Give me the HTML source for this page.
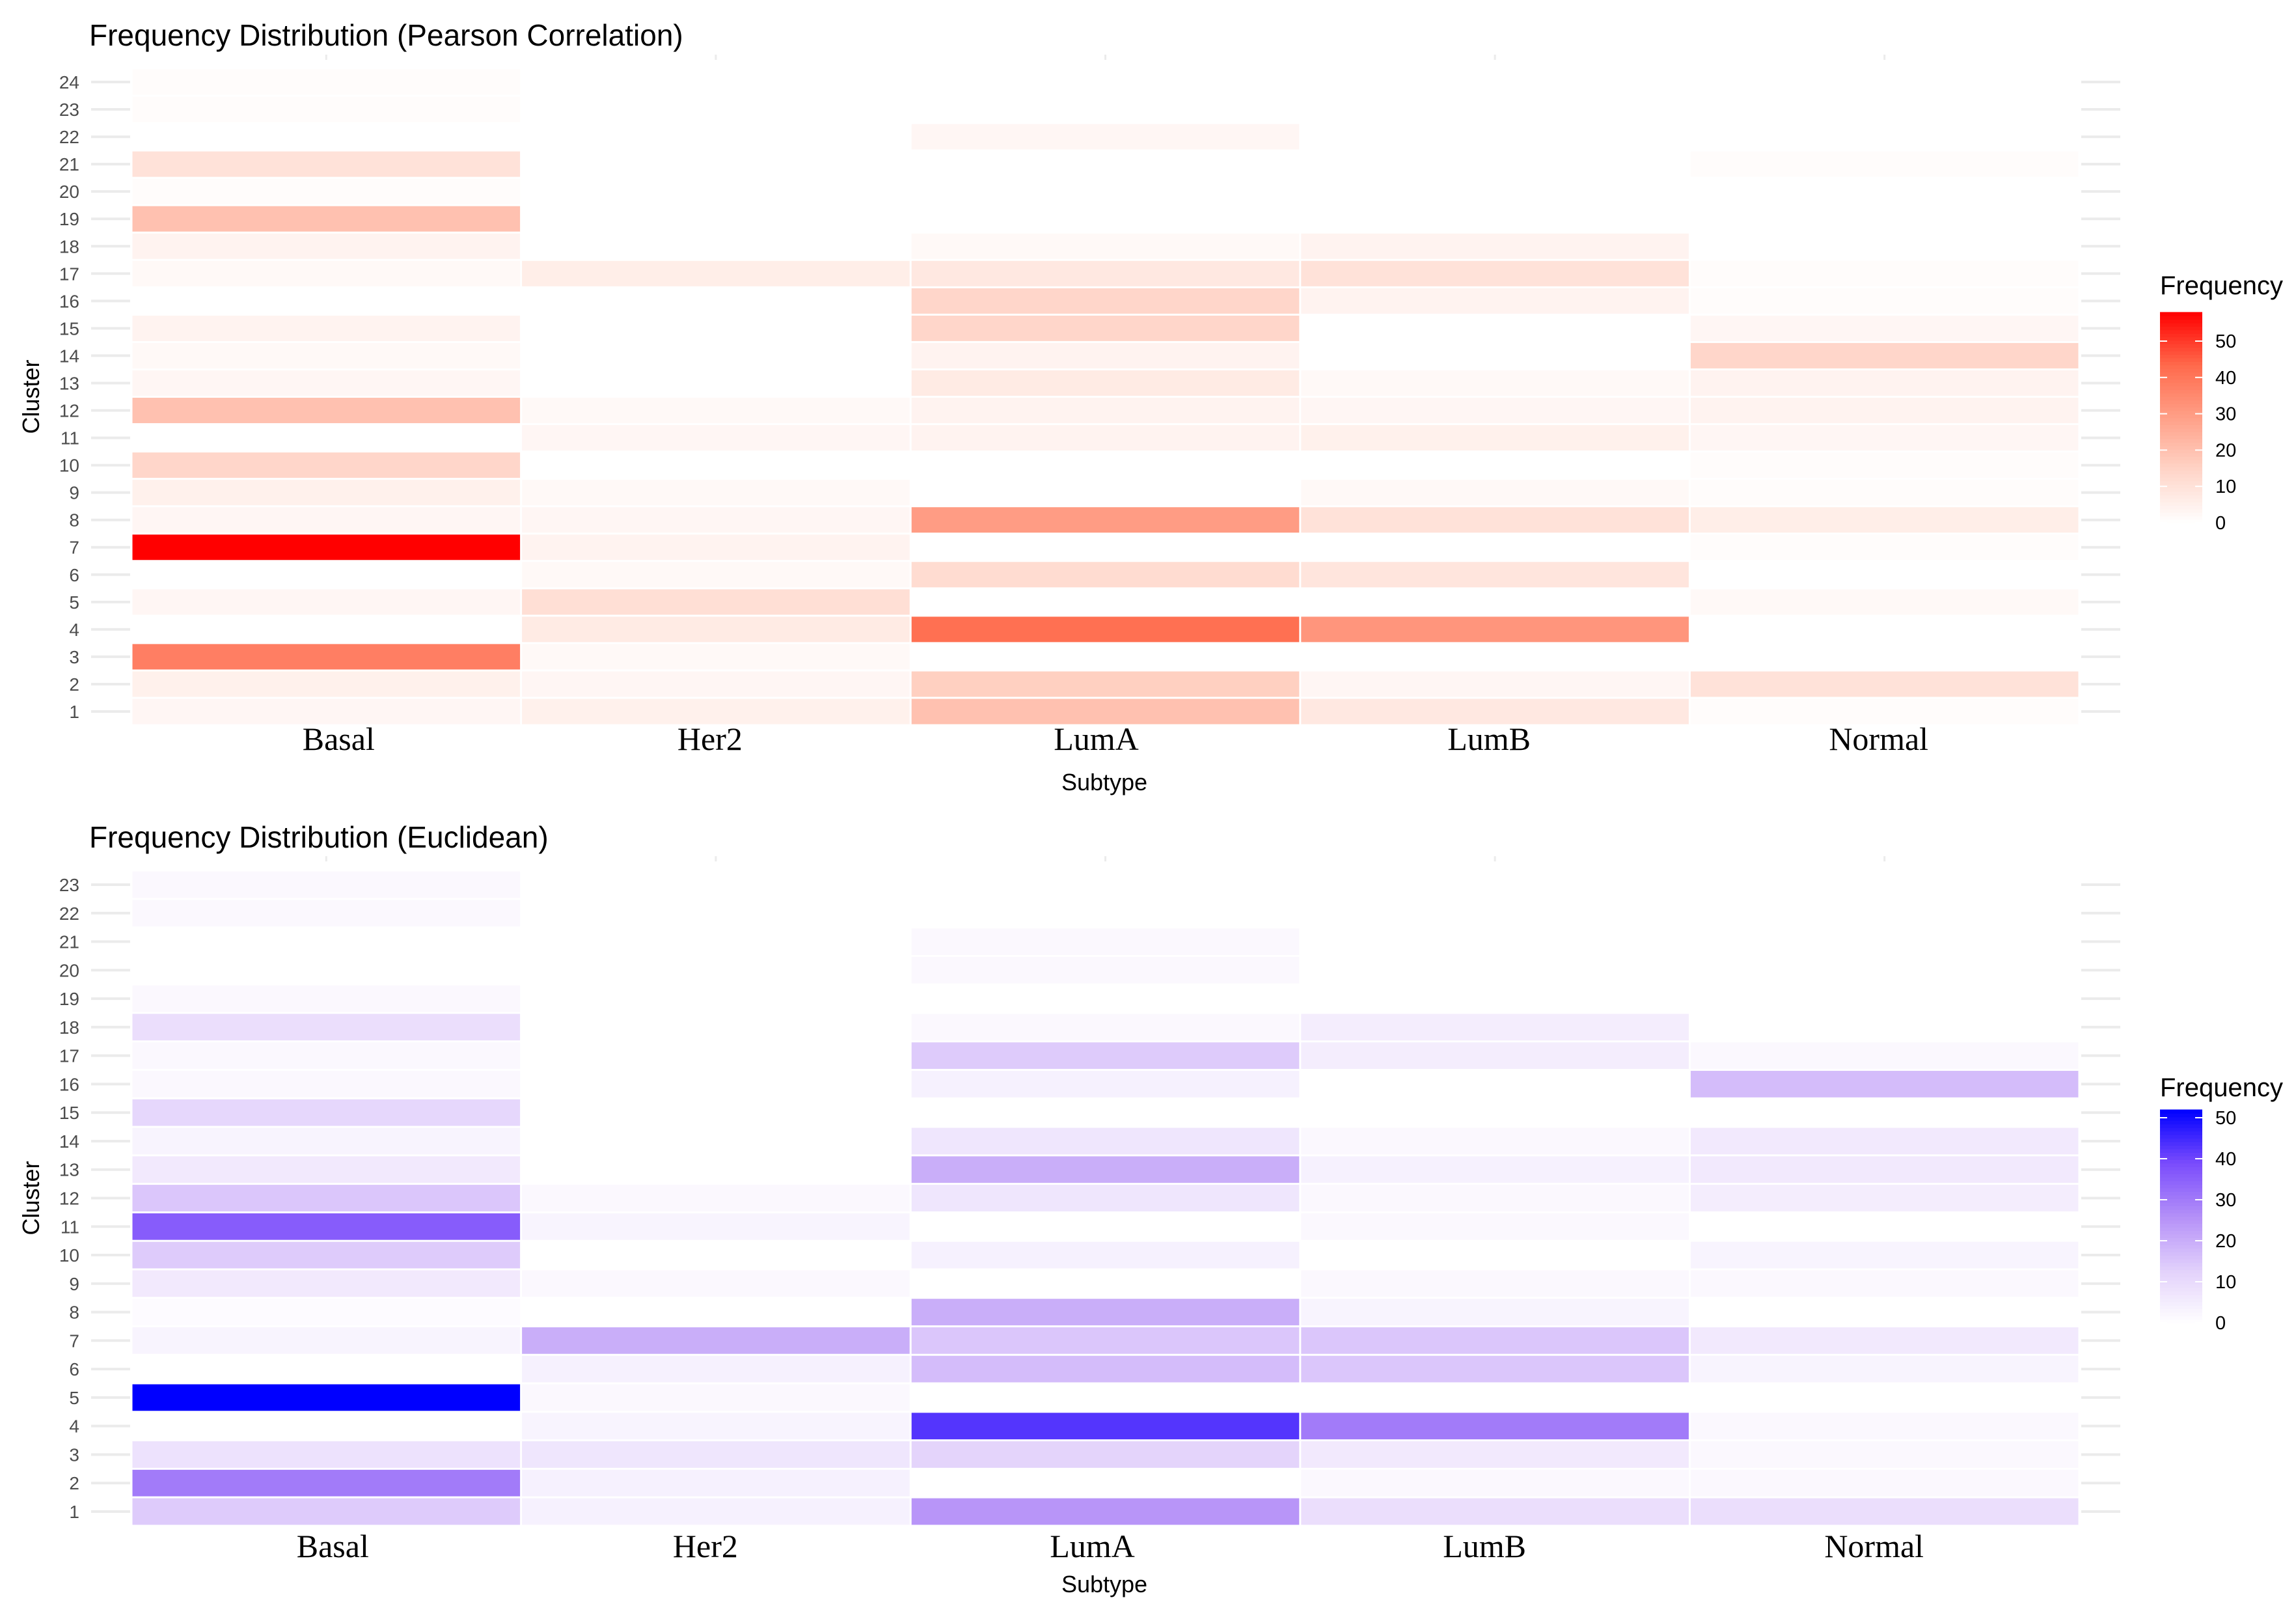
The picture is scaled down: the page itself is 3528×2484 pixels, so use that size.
<!DOCTYPE html>
<html><head><meta charset="utf-8">
<style>
html,body{margin:0;padding:0;background:#fff;}
svg{display:block;font-family:"Liberation Sans",sans-serif;}
</style></head>
<body>
<svg id="chart" width="3528" height="2484" viewBox="0 0 3528 2484" xmlns="http://www.w3.org/2000/svg"></svg>
<script>
const subtypes = ["Basal","Her2","LumA","LumB","Normal"];
// Pearson values, rows cluster 1..24
const pearsonBasal  = [3,5,38,0,3,0,58,3,5,14,0,20,3,2,4,0,2,4,20,1,10,0,1,1];
const pearsonHer2   = [5,3,2,7,11,2,4,3,2,0,3,2,0,0,0,0,6,0,0,0,0,0,0,0];
const pearsonLumA   = [20,16,0,42,0,12,0,30,0,0,4,4,7,4,14,14,8,2,0,0,0,3,0,0];
const pearsonLumB   = [8,3,0,32,0,9,0,10,2,0,5,3,2,0,0,4,10,4,0,0,0,0,0,0];
const pearsonNormal = [1,10,0,0,2,0,1,6,1,1,3,4,4,14,3,1,1,0,0,0,1,0,0,0];
// Euclidean values, rows cluster 1..23
const euclidBasal  = [14,30,8,0,52,0,3,1,6,14,36,15,6,3,11,2,2,9,2,0,0,2,2];
const euclidHer2   = [4,4,7,3,2,4,20,0,2,0,3,2,0,0,0,0,0,0,0,0,0,0,0];
const euclidLumA   = [25,0,12,43,0,17,15,20,0,4,0,7,20,7,0,4,14,2,0,2,2,0,0];
const euclidLumB   = [9,2,6,30,0,15,15,3,2,0,2,2,4,2,0,0,5,5,0,0,0,0,0];
const euclidNormal = [9,2,2,2,0,3,6,0,2,3,0,5,6,6,0,17,2,0,0,0,0,0,0];
const legendTicks = [0,10,20,30,40,50];

const NS="http://www.w3.org/2000/svg";
const svg=document.getElementById('chart');
function mk(tag,attrs,parent,text){const e=document.createElementNS(NS,tag);for(const k in attrs)e.setAttribute(k,attrs[k]);if(text!==undefined)e.textContent=text;(parent||svg).appendChild(e);return e;}
function hex(c){return [parseInt(c.substr(1,2),16),parseInt(c.substr(3,2),16),parseInt(c.substr(5,2),16)];}
function interp(stops,t){t=Math.max(0,Math.min(1,t));const n=stops.length-1;const i=Math.min(n-1,Math.floor(t*n));const f=t*n-i;const a=hex(stops[i]),b=hex(stops[i+1]);return 'rgb('+a.map((v,k)=>Math.round(v+(b[k]-v)*f)).join(',')+')';}
const redStops=["#ffffff","#ffd5c8","#ffa088","#ff6a4c","#ff0000"];
const blueStops=["#ffffff","#e2d0fb","#b490f8","#7a4cfc","#0000ff"];

function panel(cfg){
  const g=mk('g',{},svg);
  
  
  const nRows=cfg.series[0].length;
  const rowY=r=>cfg.y1+(cfg.yTop-cfg.y1)*(r-1)/(nRows-1);
  const rowH=(cfg.y1-cfg.yTop)/(nRows-1);
  const colW=(cfg.x1-cfg.x0)/subtypes.length;
  const colX=i=>cfg.x0+i*colW;
  const t=mk('text',{x:137,y:cfg.titleY,'font-size':46,fill:'#000'},g,cfg.title);
  
  
  for(let r=1;r<=nRows;r++){
    const l=mk('line',{x1:140,x2:200,y1:rowY(r),y2:rowY(r),stroke:'#ebebeb','stroke-width':4},g);
    
    
    const l2=mk('line',{x1:3198,x2:3258,y1:rowY(r),y2:rowY(r),stroke:'#ebebeb','stroke-width':4},g);
    
    
    const lb=mk('text',{x:122,y:rowY(r)+10,'font-size':28,fill:'#4d4d4d','text-anchor':'end'},g,String(r));
    
    
  }
  subtypes.forEach((s,i)=>{
    const vl=mk('line',{x1:colX(i)+colW/2,x2:colX(i)+colW/2,y1:cfg.yTop-rowH,y2:cfg.yTop-rowH+8,stroke:'#ebebeb','stroke-width':3},g);
    
    
    cfg.series[i].forEach((v,k)=>{
      if(v<=0)return;
      const c=mk('rect',{x:colX(i)+1.5,y:rowY(k+1)-rowH/2+1.5,width:colW-3,height:rowH-3,fill:interp(cfg.stops,v/cfg.max)},g);
      
      
    });
    const xl=mk('text',{x:colX(i)+colW/2+cfg.xOff[i],y:cfg.xLabY,'font-size':50,fill:'#000','text-anchor':'middle','font-family':'"Liberation Serif",serif'},g,s);
    
    
  });
  const xt=mk('text',{x:1697,y:cfg.subY,'font-size':36,fill:'#000','text-anchor':'middle'},g,'Subtype');
  
  
  const cy=(cfg.yTop+cfg.y1)/2;
  const yt=mk('text',{x:60,y:cy,'font-size':36,fill:'#000','text-anchor':'middle',transform:'rotate(-90 60 '+cy+')'},g,'Cluster');
  
  
  const lt=mk('text',{x:3319,y:cfg.legTitleY,'font-size':40,fill:'#000'},g,'Frequency');
  
  
  const vy=v=>cfg.leg0+(cfg.leg50-cfg.leg0)*v/50;
  const steps=60;
  for(let s=0;s<steps;s++){
    const v0=cfg.max*s/steps,v1=cfg.max*(s+1)/steps;
    const r=mk('rect',{x:3319,y:vy(v1),width:65,height:vy(v0)-vy(v1)+1,fill:interp(cfg.stops,(v0+v1)/2/cfg.max)},g);
    
    
  }
  legendTicks.forEach(v=>{
    const tl=mk('text',{x:3404,y:vy(v)+10,'font-size':29,fill:'#000'},g,String(v));
    
    
    mk('line',{x1:3319,x2:3330,y1:vy(v),y2:vy(v),stroke:'#fff','stroke-width':2},g);
    mk('line',{x1:3373,x2:3384,y1:vy(v),y2:vy(v),stroke:'#fff','stroke-width':2},g);
  });
}
panel({name:'pearson-heatmap',title:'Frequency Distribution (Pearson Correlation)',titleY:70,
  series:[pearsonBasal,pearsonHer2,pearsonLumA,pearsonLumB,pearsonNormal],
  yTop:126,y1:1093,x0:202,x1:3195,xLabY:1152,subY:1214,stops:redStops,max:58,
  legTitleY:452,leg0:803,leg50:524,xOff:[19,-9,-14,-9,-9]});
panel({name:'euclidean-heatmap',title:'Frequency Distribution (Euclidean)',titleY:1302,
  series:[euclidBasal,euclidHer2,euclidLumA,euclidLumB,euclidNormal],
  yTop:1359,y1:2322,x0:202,x1:3195,xLabY:2392,subY:2446,stops:blueStops,max:52,
  legTitleY:1684,leg0:2032,leg50:1717,xOff:[10,-16,-20,-16,-16]});
</script>
</body></html>
